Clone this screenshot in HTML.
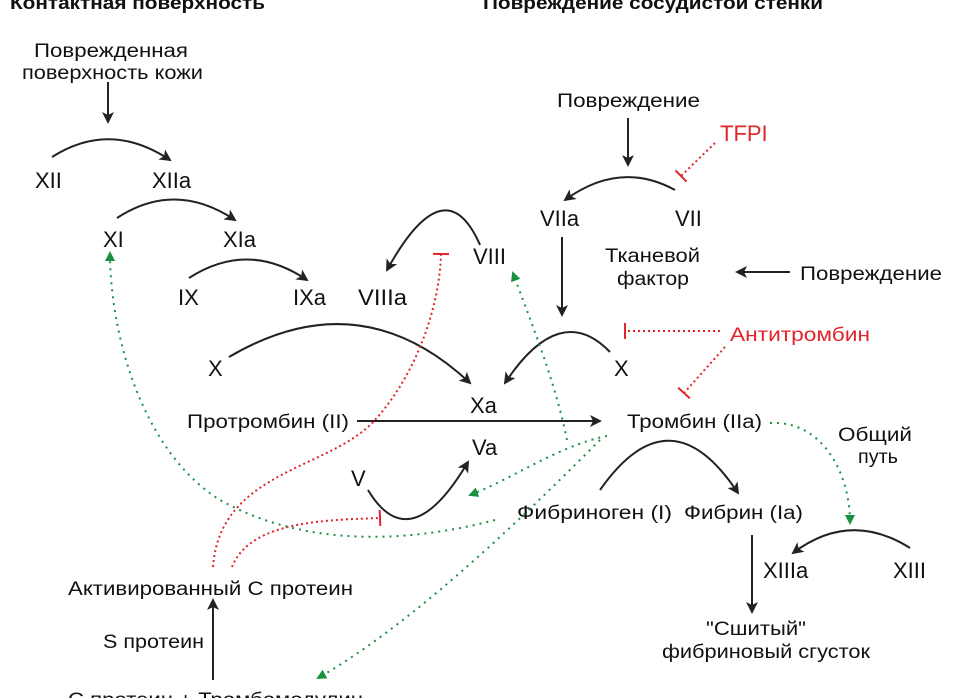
<!DOCTYPE html>
<html><head><meta charset="utf-8"><style>
html,body{margin:0;padding:0;background:#fff}
svg{display:block}
text{font-family:"Liberation Sans","DejaVu Sans",sans-serif;fill:#111}
.n{font-size:22px}
.l{font-size:19px}
.r{fill:#e0262b}
</style></head><body>
<svg width="963" height="698" viewBox="0 0 963 698" xmlns="http://www.w3.org/2000/svg">
<defs>
<marker id="a" markerWidth="12" markerHeight="12" refX="10" refY="6" orient="auto" markerUnits="userSpaceOnUse"><path d="M0,0 L12,6 L0,12 L3,6 Z" fill="#222"/></marker>
<marker id="g" markerWidth="10" markerHeight="10" refX="8" refY="5" orient="auto" markerUnits="userSpaceOnUse"><path d="M0,0 L10,5 L0,10 Z" fill="#1a9142"/></marker>
<marker id="t" markerWidth="4" markerHeight="16" refX="2" refY="8" orient="auto" markerUnits="userSpaceOnUse"><path d="M2,0 L2,16" stroke="#e0262b" stroke-width="2"/></marker>
</defs>
<g font-weight="bold" font-size="18">
<text x="10" y="9" textLength="255" lengthAdjust="spacingAndGlyphs">Контактная поверхность</text>
<text x="483" y="9" textLength="340" lengthAdjust="spacingAndGlyphs">Повреждение сосудистой стенки</text>
</g>
<g class="l" lengthAdjust="spacingAndGlyphs">
<text x="34" y="57" textLength="154" lengthAdjust="spacingAndGlyphs">Поврежденная</text>
<text x="22" y="79" textLength="181" lengthAdjust="spacingAndGlyphs">поверхность кожи</text>
<text x="557" y="107" textLength="143" lengthAdjust="spacingAndGlyphs">Повреждение</text>
<text x="605" y="262" textLength="95" lengthAdjust="spacingAndGlyphs">Тканевой</text>
<text x="617" y="285" textLength="72" lengthAdjust="spacingAndGlyphs">фактор</text>
<text x="838" y="441" textLength="74" lengthAdjust="spacingAndGlyphs">Общий</text>
<text x="858" y="463" textLength="40" lengthAdjust="spacingAndGlyphs">путь</text>
<text x="706" y="635" textLength="100" lengthAdjust="spacingAndGlyphs">"Сшитый"</text>
<text x="662" y="658" textLength="208" lengthAdjust="spacingAndGlyphs">фибриновый сгусток</text>
<text x="800" y="280" textLength="142" lengthAdjust="spacingAndGlyphs">Повреждение</text>
<text x="187" y="428" textLength="162" lengthAdjust="spacingAndGlyphs">Протромбин (II)</text>
<text x="627" y="428" textLength="135" lengthAdjust="spacingAndGlyphs">Тромбин (IIa)</text>
<text x="517" y="519" textLength="155" lengthAdjust="spacingAndGlyphs">Фибриноген (I)</text>
<text x="684" y="519" textLength="119" lengthAdjust="spacingAndGlyphs">Фибрин (Ia)</text>
<text x="68" y="595" textLength="285" lengthAdjust="spacingAndGlyphs">Активированный С протеин</text>
<text x="103" y="648" textLength="101" lengthAdjust="spacingAndGlyphs">S протеин</text>
<text x="68" y="706" textLength="295" lengthAdjust="spacingAndGlyphs">С протеин + Тромбомодулин</text>
<text x="730" y="341" class="r" textLength="140" lengthAdjust="spacingAndGlyphs">Антитромбин</text>
</g>
<text x="720" y="141" font-size="22" class="r">TFPI</text>
<g class="n">
<text x="35" y="188">XII</text><text x="152" y="188">XIIa</text>
<text x="103" y="247">XI</text><text x="223" y="247">XIa</text>
<text x="178" y="305">IX</text><text x="293" y="305">IXa</text>
<text x="358" y="305" textLength="49" lengthAdjust="spacingAndGlyphs">VIIIa</text><text x="473" y="264">VIII</text>
<text x="208" y="376">X</text><text x="614" y="376">X</text>
<text x="470" y="413">Xa</text><text x="472" y="455">Va</text>
<text x="351" y="486">V</text>
<text x="540" y="226">VIIa</text><text x="675" y="226">VII</text>
<text x="763" y="578">XIIIa</text><text x="893" y="578">XIII</text>
</g>
<g fill="none" stroke="#222" stroke-width="2" marker-end="url(#a)">
<path d="M108,82 L108,122"/>
<path d="M52,157 Q110,120 170,160"/>
<path d="M117,218 Q175,180 235,220"/>
<path d="M189,278 Q248,240 307,280"/>
<path d="M480,245 Q445,165 387,270"/>
<path d="M229,357 Q360,280 470,383"/>
<path d="M357,421 L600,421"/>
<path d="M368,490 Q410,560 468,462"/>
<path d="M628,118 L628,165"/>
<path d="M675,190 Q620,160 565,200"/>
<path d="M790,272 L737,272"/>
<path d="M562,237 L562,315"/>
<path d="M610,352 Q560,300 505,383"/>
<path d="M600,490 Q670,390 738,493"/>
<path d="M752,535 L752,612"/>
<path d="M910,548 Q850,510 793,553"/>
<path d="M213,680 L213,600"/>
</g>
<g fill="none" stroke="#e0262b" stroke-width="2" stroke-dasharray="2,3" marker-end="url(#t)">
<path d="M715,143 L681,176"/>
<path d="M720,331 L625,331"/>
<path d="M725,347 L684,393"/>
<path d="M213,567 C220,470 330,470 375,420 C420,370 440,300 441,254"/>
<path d="M232,567 C250,520 330,520 380,518"/>
</g>
<g fill="none" stroke="#1a9142" stroke-width="2" stroke-dasharray="2,5" marker-end="url(#g)">
<path d="M567,440 C555,380 530,320 513,273"/>
<path d="M607,436 C560,445 510,480 470,495"/>
<path d="M600,440 C540,500 420,620 318,678"/>
<path d="M495,520 C400,545 300,545 220,500 C140,450 110,330 110,253"/>
<path d="M770,423 C820,420 850,470 850,523"/>
</g>
</svg>
</body></html>
